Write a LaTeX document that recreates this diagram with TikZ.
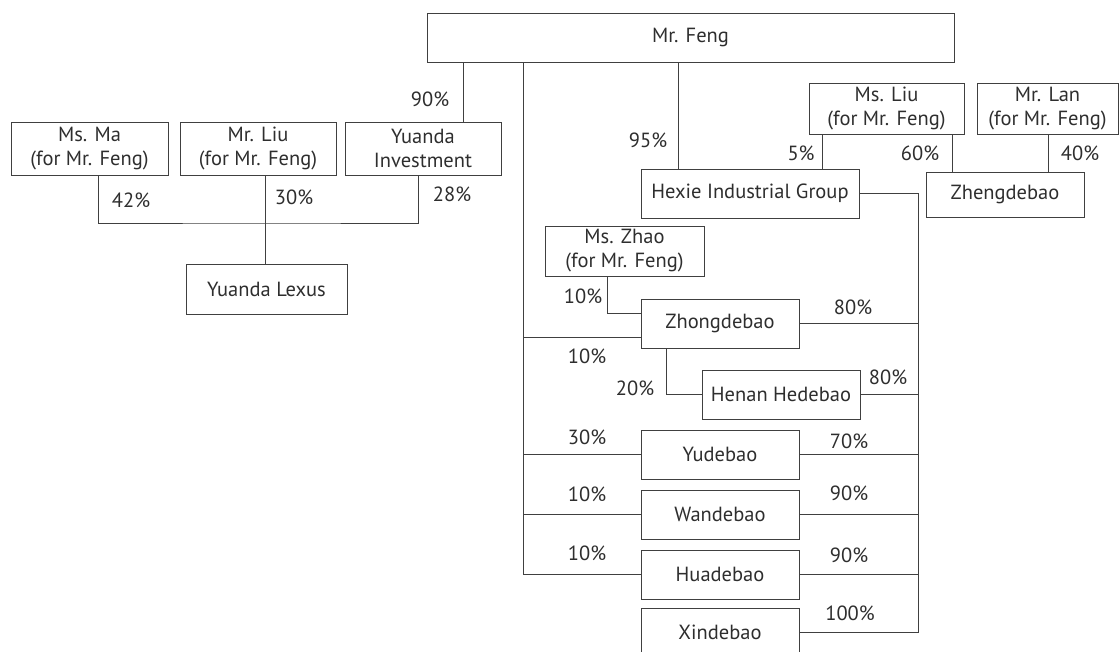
\documentclass[tikz,border=0pt]{standalone}
\usepackage{fontspec}
\setmainfont{PT Sans}
\definecolor{linegray}{HTML}{404040}
\definecolor{textgray}{HTML}{2E2E2E}

\tikzset{
  box/.style={draw=linegray, line width=0.8pt, text=textgray, align=center,
    inner sep=0pt, minimum height=49pt, font=\fontsize{20.5}{24}\selectfont},
  pct/.style={text=textgray, inner sep=0pt, font=\fontsize{20.5}{24}\selectfont},
  link/.style={draw=linegray, line width=0.8pt},
}

\begin{document}
\begin{tikzpicture}[x=1pt,y=-1pt]
    \useasboundingbox (0,0) rectangle (1119,651);

    \node[box, minimum width=527pt] (feng) at (690.5,37.5) {Mr. Feng};
    \node[box, minimum width=157pt, minimum height=53pt] (ma) at (89.5,148.5) {Ms. Ma\\(for Mr. Feng)};
    \node[box, minimum width=156pt, minimum height=53pt] (liu) at (258,148.5) {Mr. Liu\\(for Mr. Feng)};
    \node[box, minimum width=156pt, minimum height=53pt] (yinv) at (423,148.5) {Yuanda\\Investment};
    \node[box, minimum width=161pt, minimum height=50pt] (lexus) at (266.5,289) {Yuanda Lexus};
    \node[box, minimum width=155pt, minimum height=51pt] (msliu) at (886.5,108.5) {Ms. Liu\\(for Mr. Feng)};
    \node[box, minimum width=141pt, minimum height=51pt] (lan) at (1047.5,108.5) {Mr. Lan\\(for Mr. Feng)};
    \node[box, minimum width=218pt] (hexie) at (750,193.5) {Hexie Industrial Group};
    \node[box, minimum width=158pt, minimum height=45pt] (zheng) at (1005,194.5) {Zhengdebao};
    \node[box, minimum width=159pt, minimum height=50pt] (zhao) at (624.5,251) {Ms. Zhao\\(for Mr. Feng)};
    \node[box, minimum width=158pt] (zhong) at (720,323.5) {Zhongdebao};
    \node[box, minimum width=158pt] (henan) at (781,394.5) {Henan Hedebao};
    \node[box, minimum width=158pt] (yude) at (720,454.5) {Yudebao};
    \node[box, minimum width=158pt] (wande) at (720,514.5) {Wandebao};
    \node[box, minimum width=158pt] (huade) at (720,574.5) {Huadebao};
    \node[box, minimum width=158pt] (xinde) at (720,632.5) {Xindebao};

    % left group
    \coordinate (bar) at (265,223);
    \draw[link] (feng.south -| 463,0) -- (yinv.north -| 463,0);
    \draw[link] (ma.south -| 98,0) |- (bar) -| (yinv.south -| 418,0);
    \draw[link] (liu.south -| bar) -- (lexus.north -| bar);

    % trunk and Hexie
    \coordinate (trunk) at (523,0);
    \coordinate (rtrunk) at (918,0);
    \draw[link] (feng.south -| trunk) |- (huade.west);
    \draw[link] (trunk |- 0,337) -- (zhong.west |- 0,337);
    \draw[link] (trunk |- yude.west) -- (yude.west);
    \draw[link] (trunk |- wande.west) -- (wande.west);
    \draw[link] (feng.south -| 678,0) -- (hexie.north -| 678,0);
    \draw[link] (msliu.south -| 822,0) -- (hexie.north -| 822,0);
    \draw[link] (msliu.south -| 952,0) -- (zheng.north -| 952,0);
    \draw[link] (lan.south -| 1048,0) -- (zheng.north -| 1048,0);
    \draw[link] (hexie.east) -| (rtrunk |- xinde.east) -- (xinde.east);
    \foreach \n in {zhong,henan,yude,wande,huade}
      \draw[link] (\n.east) -- (rtrunk |- \n.east);
    \draw[link] (zhao.south -| 607,0) |- (zhong.west |- 0,313);
    \draw[link] (zhong.south -| 666,0) |- (henan.west);

    % percentages
    \node[pct] (p90) at (430,99) {90\%};
    \node[pct] (p42) at (131,200) {42\%};
    \node[pct] (p30) at (294,197) {30\%};
    \node[pct] (p28) at (452,194) {28\%};
    \node[pct] (p95) at (648,140) {95\%};
    \node[pct] (p5) at (801,153) {5\%};
    \node[pct] (p60) at (920,153) {60\%};
    \node[pct] (p40) at (1080,153) {40\%};
    \node[pct] (pzhao) at (583,296) {10\%};
    \node[pct] (pzhong) at (853,307) {80\%};
    \node[pct] (pzhongf) at (587,356) {10\%};
    \node[pct] (p20) at (635,388) {20\%};
    \node[pct] (phenan) at (888,377) {80\%};
    \node[pct] (pyudef) at (587,437) {30\%};
    \node[pct] (pyude) at (849,441) {70\%};
    \node[pct] (pwandef) at (587,494) {10\%};
    \node[pct] (pwande) at (849,493) {90\%};
    \node[pct] (phuadef) at (587,553) {10\%};
    \node[pct] (phuade) at (849,555) {90\%};
    \node[pct] (pxinde) at (850,613) {100\%};
\end{tikzpicture}
\end{document}
